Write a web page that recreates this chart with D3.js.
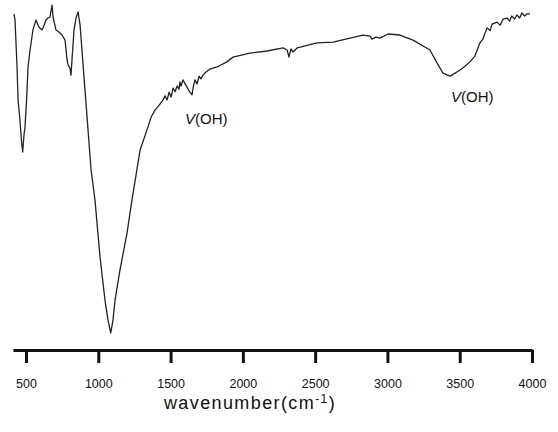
<!DOCTYPE html>
<html>
<head>
<meta charset="utf-8">
<script src="https://cdn.jsdelivr.net/npm/d3@7"></script>
<style>
  body { margin: 0; background: #fff; }
  text { font-family: "Liberation Sans", Arial, sans-serif; }
</style>
</head>
<body>
<svg id="chart"></svg>
<script>
const width = 558;
const height = 432;

// wavenumber (cm-1) and relative transmittance
const wavenumber = [417, 424, 438, 445, 458, 470, 477, 486, 493, 505, 514, 528, 548, 569, 590, 611, 625, 638, 652, 666, 680, 687, 707, 728, 749, 770, 784, 791, 804, 811, 818, 832, 846, 860, 874, 887, 908, 929, 950, 977, 1012, 1046, 1067, 1086, 1102, 1116, 1150, 1199, 1233, 1261, 1289, 1337, 1365, 1392, 1420, 1448, 1462, 1476, 1490, 1504, 1517, 1531, 1545, 1558, 1565, 1572, 1586, 1600, 1614, 1628, 1648, 1658, 1669, 1683, 1697, 1710, 1724, 1745, 1773, 1821, 1890, 1932, 2049, 2167, 2278, 2306, 2319, 2333, 2347, 2375, 2513, 2624, 2741, 2831, 2879, 2893, 2920, 2948, 3004, 3087, 3177, 3294, 3343, 3384, 3433, 3468, 3502, 3530, 3571, 3605, 3640, 3660, 3689, 3710, 3724, 3758, 3780, 3800, 3827, 3845, 3860, 3880, 3896, 3915, 3930, 3950, 3965, 3986];
const transmittance = [95.9, 94.1, 80.3, 70.6, 64.7, 57.9, 55.3, 60.3, 62.6, 71.5, 80.3, 85.3, 91.2, 94.1, 92.0, 91.2, 92.6, 94.1, 94.7, 95.0, 98.5, 95.0, 91.2, 90.6, 89.7, 88.2, 82.4, 80.9, 80.0, 77.9, 82.4, 91.2, 94.7, 96.5, 92.6, 85.3, 73.5, 61.8, 50.0, 41.2, 24.4, 11.8, 5.9, 2.1, 5.9, 11.8, 20.6, 31.5, 41.2, 48.5, 55.9, 61.8, 65.5, 67.6, 69.0, 70.6, 71.8, 70.6, 72.9, 71.5, 74.1, 73.0, 74.7, 73.8, 75.9, 74.7, 76.5, 75.3, 74.4, 73.2, 72.1, 74.7, 76.5, 75.3, 77.6, 76.8, 77.9, 78.8, 79.7, 80.3, 81.8, 83.2, 84.4, 85.0, 85.9, 85.3, 83.2, 85.6, 84.7, 85.9, 87.4, 87.6, 88.8, 89.7, 89.4, 88.5, 89.1, 88.8, 90.0, 89.7, 88.2, 85.3, 81.5, 78.5, 77.6, 78.5, 79.4, 80.3, 81.8, 83.5, 87.4, 88.5, 91.8, 91.0, 92.9, 93.5, 92.6, 94.4, 94.7, 93.8, 95.3, 94.4, 95.6, 94.7, 96.2, 95.3, 95.9, 95.9];
const xTicks = [500, 1000, 1500, 2000, 2500, 3000, 3500, 4000];
const bandLabels = [{ w: 1600, t: 63.5 }, { w: 3440, t: 70.0 }];

const spectrum = wavenumber.map((w, i) => ({ w: w, t: transmittance[i] }));

const svg = d3.select("#chart")
  .attr("width", width)
  .attr("height", height);

const x = d3.scaleLinear().domain([410, 4000]).range([13, 532]);
const y = d3.scaleLinear().domain([0, 100]).range([340, 0]);

// axis
const axis = svg.append("g")
  .attr("transform", "translate(0,350)")
  .call(d3.axisBottom(x).tickValues(xTicks).tickFormat(d3.format("d"))
    .tickSize(13).tickSizeOuter(0).tickPadding(16));

axis.select(".domain").attr("stroke", "#111").attr("stroke-width", 3);
axis.selectAll(".tick line").attr("stroke", "#111").attr("stroke-width", 3);
axis.selectAll(".tick text")
  .attr("fill", "#111")
  .attr("font-size", 12.5)
  .attr("font-family", "'Liberation Sans', Arial, sans-serif");

// curve
const line = d3.line()
  .x(d => x(d.w))
  .y(d => y(d.t));

svg.append("path")
  .datum(spectrum)
  .attr("fill", "none")
  .attr("stroke", "#222")
  .attr("stroke-width", 1.3)
  .attr("stroke-linejoin", "round")
  .attr("d", line);

// band labels
const lbl = svg.selectAll(".band")
  .data(bandLabels)
  .enter().append("text")
  .attr("class", "band")
  .attr("x", d => x(d.w))
  .attr("y", d => y(d.t))
  .attr("font-size", 15)
  .attr("fill", "#111");
lbl.append("tspan").attr("font-style", "italic").text("V");
lbl.append("tspan").text("(OH)");

// axis title
const title = svg.append("text")
  .attr("x", 250)
  .attr("y", 409)
  .attr("text-anchor", "middle")
  .attr("font-size", 18)
  .attr("letter-spacing", 1.4)
  .attr("fill", "#111");
title.append("tspan").text("wavenumber(cm");
title.append("tspan").attr("font-size", 12).attr("dy", -6).text("-1");
title.append("tspan").attr("dy", 6).text(")");
</script>
</body>
</html>
